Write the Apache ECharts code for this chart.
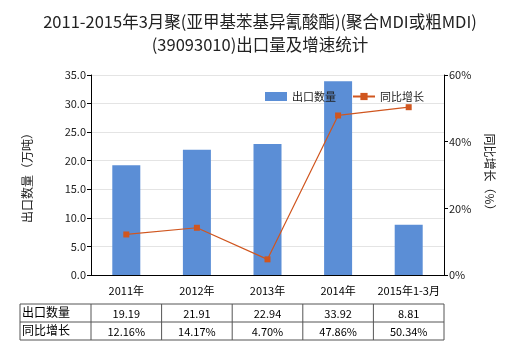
<!DOCTYPE html>
<html>
<head>
<meta charset="utf-8">
<script src="https://cdn.jsdelivr.net/npm/echarts@6/dist/echarts.min.js"></script>
<style>
html,body{margin:0;padding:0;background:#fff;}
#main{width:520px;height:350px;}
</style>
</head>
<body>
<div id="main"></div>
<script>
// Export volume (10k tonnes) and year-on-year growth (%)
const categories = ['2011年', '2012年', '2013年', '2014年', '2015年1-3月'];
const exportVolume = [19.19, 21.91, 22.94, 33.92, 8.81];
const yoyGrowth = [12.16, 14.17, 4.70, 47.86, 50.34];
const volumeLabels = ['19.19', '21.91', '22.94', '33.92', '8.81'];
const growthLabels = ['12.16%', '14.17%', '4.70%', '47.86%', '50.34%'];
const rowNames = ['出口数量', '同比增长'];

const FONT = '"Noto Sans CJK SC", "DejaVu Sans", sans-serif';
const gridLeft = 91, gridRight = 444, gridTop = 75, gridBottom = 275;

const chart = echarts.init(document.getElementById('main'), null, {renderer: 'canvas'});

// Data table under the plot, built from the arrays above
function buildTable() {
  const els = [];
  const colW = (gridRight - gridLeft) / categories.length;
  const x0 = 20, top = 304, rowH = 18;
  const lineStyle = {stroke: '#555', lineWidth: 1};
  const rows = [volumeLabels, growthLabels];
  for (let r = 0; r <= rows.length; r++) {
    els.push({type: 'line', shape: {x1: x0, y1: top + r * rowH, x2: gridRight, y2: top + r * rowH}, style: lineStyle, silent: true});
  }
  const xs = [x0];
  for (let c = 0; c <= categories.length; c++) xs.push(gridLeft + c * colW);
  xs.forEach(x => els.push({type: 'line', shape: {x1: x, y1: top, x2: x, y2: top + rows.length * rowH}, style: lineStyle, silent: true}));
  rows.forEach((vals, r) => {
    els.push({type: 'text', x: x0 + 2, y: top + r * rowH + rowH / 2 - 1,
      style: {text: rowNames[r], font: '12px ' + FONT, fill: '#000', textVerticalAlign: 'middle', textAlign: 'left'}, silent: true});
    vals.forEach((v, c) => {
      els.push({type: 'text', x: gridLeft + (c + 0.5) * colW, y: top + r * rowH + rowH / 2 + 1,
        style: {text: v, font: '11px ' + FONT, fill: '#000', textVerticalAlign: 'middle', textAlign: 'center'}, silent: true});
    });
  });
  return els;
}

const option = {
  backgroundColor: '#fff',
  animation: false,
  title: {
    text: '2011-2015年3月聚(亚甲基苯基异氰酸酯)(聚合MDI或粗MDI)\n(39093010)出口量及增速统计',
    left: 'center',
    top: 5,
    textStyle: {fontFamily: FONT, fontSize: 16.5, fontWeight: 'normal', color: '#222', lineHeight: 23}
  },
  legend: {
    top: 86,
    left: 260,
    itemWidth: 22,
    itemHeight: 9,
    itemGap: 16,
    textStyle: {fontFamily: FONT, fontSize: 11, color: '#222'},
    data: [
      {name: '出口数量', icon: 'rect'},
      {name: '同比增长'}
    ]
  },
  grid: {left: gridLeft, right: 520 - gridRight, top: gridTop, bottom: 350 - gridBottom, containLabel: false},
  xAxis: {
    type: 'category',
    data: categories,
    axisLine: {lineStyle: {color: '#000'}},
    axisTick: {show: false},
    axisLabel: {fontFamily: FONT, fontSize: 11, color: '#000', margin: 10, interval: 0}
  },
  yAxis: [
    {
      type: 'value', min: 0, max: 35, interval: 5,
      name: '出口数量（万吨）',
      nameLocation: 'middle', nameGap: 58, nameRotate: 90,
      nameTextStyle: {fontFamily: FONT, fontSize: 12, color: '#222'},
      axisLine: {show: true, lineStyle: {color: '#000'}},
      axisTick: {show: true, length: 4, lineStyle: {color: '#000'}},
      axisLabel: {fontFamily: FONT, fontSize: 11, color: '#222', margin: 5, formatter: v => v.toFixed(1)},
      splitLine: {lineStyle: {color: '#e4e4e4'}}
    },
    {
      type: 'value', min: 0, max: 60, interval: 20,
      name: '同比增长（%）',
      nameLocation: 'middle', nameGap: 40, nameRotate: -90,
      nameTextStyle: {fontFamily: FONT, fontSize: 12, color: '#222'},
      axisLine: {show: true, lineStyle: {color: '#000'}},
      axisTick: {show: true, length: 4, inside: false, lineStyle: {color: '#000'}},
      axisLabel: {fontFamily: FONT, fontSize: 11, color: '#222', margin: 5, formatter: '{value}%'},
      splitLine: {show: false}
    }
  ],
  series: [
    {
      name: '出口数量', type: 'bar', data: exportVolume, barWidth: 28,
      itemStyle: {color: '#5b8ed6'}
    },
    {
      name: '同比增长', type: 'line', yAxisIndex: 1, data: yoyGrowth,
      symbol: 'rect', symbolSize: 6,
      lineStyle: {color: '#d0561f', width: 1.2},
      itemStyle: {color: '#d0561f'}
    }
  ],
  graphic: buildTable()
};

chart.setOption(option);
</script>
</body>
</html>
